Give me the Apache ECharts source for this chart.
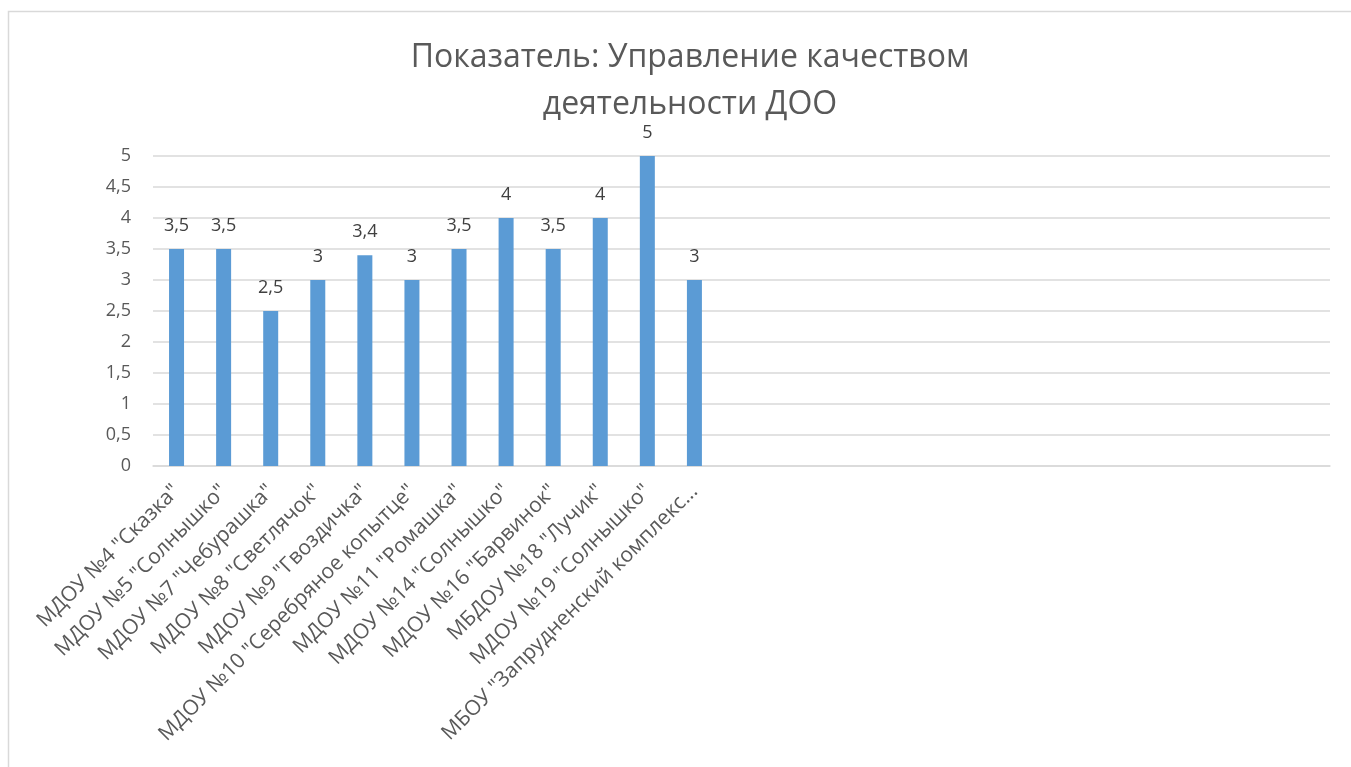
<!DOCTYPE html>
<html>
<head>
<meta charset="utf-8">
<script src="https://cdn.jsdelivr.net/npm/echarts@6/dist/echarts.min.js"></script>
<style>
html,body{margin:0;padding:0;background:#fff;}
#chart{width:1351px;height:767px;}
</style>
</head>
<body>
<div id="chart"></div>
<script>
const titleText = 'Показатель: Управление качеством\nдеятельности ДОО';
const categories = [
  'МДОУ №4 "Сказка"',
  'МДОУ №5 "Солнышко"',
  'МДОУ №7 "Чебурашка"',
  'МДОУ №8 "Светлячок"',
  'МДОУ №9 "Гвоздичка"',
  'МДОУ №10 "Серебряное копытце"',
  'МДОУ №11 "Ромашка"',
  'МДОУ №14 "Солнышко"',
  'МДОУ №16 "Барвинок"',
  'МБДОУ №18 "Лучик"',
  'МДОУ №19 "Солнышко"',
  'МБОУ "Запрудненский комплекс...'
];
const emptySlots = ['', '', '', '', '', '', '', '', '', '', '', '', ''];
const values = [3.5, 3.5, 2.5, 3, 3.4, 3, 3.5, 4, 3.5, 4, 5, 3];
const yTicks = { min: 0, max: 5, interval: 0.5 };

const fmt = v => String(v).replace('.', ',');
const FONT = 'Open Sans';
const chart = echarts.init(document.getElementById('chart'));
chart.setOption({
  animation: false,
  textStyle: { fontFamily: FONT },
  title: {
    text: titleText,
    left: 685, top: 29, textAlign: 'center',
    textStyle: { fontFamily: FONT, fontSize: 32, fontWeight: 'normal', color: '#595959', lineHeight: 47 }
  },
  graphic: [{
    type: 'rect', silent: true,
    shape: { x: 8.5, y: 11.5, width: 1400, height: 800 },
    style: { fill: 'none', stroke: '#d9d9d9', lineWidth: 1.5 }
  }],
  grid: { left: 153, right: 21, top: 156, bottom: 301, containLabel: false },
  xAxis: {
    type: 'category',
    data: categories.concat(emptySlots),
    axisLine: { lineStyle: { color: '#d9d9d9', width: 1.5 } },
    axisTick: { show: false },
    axisLabel: { interval: 0, rotate: 45, margin: 22, fontSize: 21, color: '#595959', fontFamily: FONT }
  },
  yAxis: {
    type: 'value',
    min: yTicks.min, max: yTicks.max, interval: yTicks.interval,
    axisLine: { show: false },
    axisTick: { show: false },
    splitLine: { lineStyle: { color: '#d9d9d9', width: 1.5 } },
    axisLabel: { fontSize: 18, color: '#595959', margin: 22, fontFamily: FONT, formatter: v => fmt(v) }
  },
  series: [{
    type: 'bar',
    data: values,
    barWidth: 15,
    itemStyle: { color: '#5b9bd5' },
    label: {
      show: true, position: 'top', distance: 14,
      fontSize: 18, color: '#404040', fontFamily: FONT,
      formatter: p => fmt(p.value)
    }
  }]
});
</script>
</body>
</html>
